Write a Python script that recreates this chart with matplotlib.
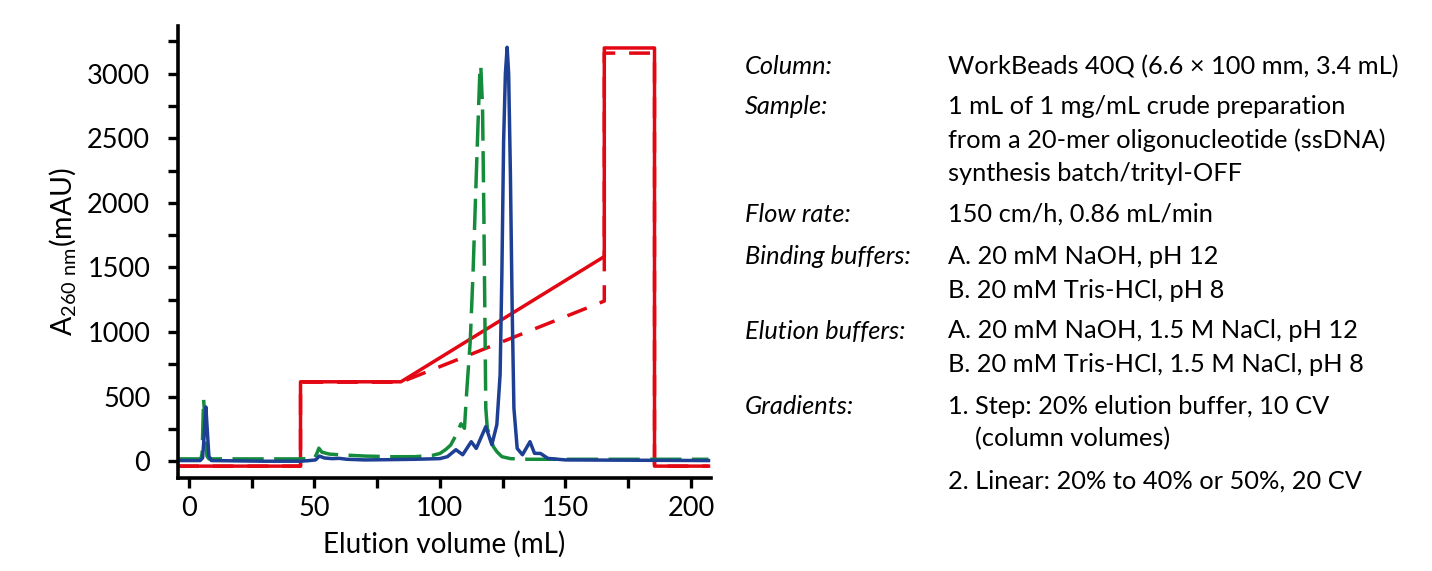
import matplotlib
matplotlib.use('Agg')
import matplotlib.pyplot as plt

plt.rcParams['font.family'] = ['Lato', 'DejaVu Sans']
plt.rcParams['mathtext.fontset'] = 'custom'
plt.rcParams['mathtext.rm'] = 'Lato'

# chromatogram traces (elution volume mL, A260 mAU)
blue_x = [-4.3, 4.5, 5.5, 6.2, 6.8, 7.4, 8.0, 9.0, 30, 44.5, 48, 50.5, 52, 54, 57, 60, 63, 70, 80, 90,
          100, 103, 106.4, 109.1, 112.5, 114.5, 118.3, 120.7, 122.7, 124.0, 124.7, 125.4, 126.1, 126.8,
          127.4, 128.1, 128.8, 129.5, 130.8, 132.9, 135.9, 137.7, 140.1, 143, 150, 207]
blue_y = [5, 5, 25, 220, 420, 230, 40, 5, 0, 0, 5, 10, 40, 25, 20, 22, 15, 10, 12, 15,
          20, 35, 89, 50, 151, 99, 268, 128, 283, 671, 1448, 2481, 3000, 3205,
          3000, 2224, 1186, 410, 99, 50, 151, 61, 60, 22, 10, 5]

green_x = [-4.3, 4.8, 5.3, 5.9, 6.5, 7.2, 8.0, 20, 44, 50, 51.0, 51.8, 53, 56, 60, 70, 80, 90, 97,
           100, 102.3, 104.3, 106.4, 108.4, 109.8, 110.7, 112.1, 113.2, 114.3, 115.2, 115.9, 116.3,
           117.0, 117.5, 117.9, 118.3, 118.9, 121.3, 122.7, 124.7, 128.1, 135, 207]
green_y = [18, 18, 60, 480, 300, 40, 18, 18, 18, 22, 60, 101, 70, 55, 50, 40, 35, 35, 45,
           60, 90, 125, 200, 290, 255, 540, 928, 1448, 2092, 2612, 3000, 3063,
           2739, 1963, 1186, 410, 255, 113, 74, 35, 20, 15, 15]

# gradient traces (red)
grad_x = [-4.3, 44.5, 44.5, 84.5, 165.5, 165.5, 185.5, 185.5, 207]
grad_solid = [-38, -38, 615, 615, 1585, 3200, 3200, -38, -38]
grad_dashed = [-38, -38, 612, 612, 1240, 3160, 3160, -38, -38]

# method text on the right
info_labels = ['Column:', 'Sample:', 'Flow rate:', 'Binding buffers:', 'Elution buffers:', 'Gradients:']
info_lines = ['WorkBeads 40Q (6.6 × 100 mm, 3.4 mL)',
              '1 mL of 1 mg/mL crude preparation',
              'from a 20-mer oligonucleotide (ssDNA)',
              'synthesis batch/trityl-OFF',
              '150 cm/h, 0.86 mL/min',
              'A. 20 mM NaOH, pH 12',
              'B. 20 mM Tris-HCl, pH 8',
              'A. 20 mM NaOH, 1.5 M NaCl, pH 12',
              'B. 20 mM Tris-HCl, 1.5 M NaCl, pH 8',
              '1. Step: 20% elution buffer, 10 CV',
              '(column volumes)',
              '2. Linear: 20% to 40% or 50%, 20 CV']

RED = '#e30613'
BLUE = '#1d3f94'
GREEN = '#148c3c'

W, H = 1432, 571
fig = plt.figure(figsize=(W / 100, H / 100), dpi=100)
ax = fig.add_axes([178 / W, 93 / H, 533 / W, 452 / H])

ax.plot(grad_x, grad_dashed, color=RED, lw=2.5, dashes=(6, 4))
ax.plot(grad_x, grad_solid, color=RED, lw=2.5)
ax.plot(green_x, green_y, color=GREEN, lw=2.5, dashes=(9, 3))
ax.plot(blue_x, blue_y, color=BLUE, lw=2.5)

ax.set_xlim(-4.3, 208)
ax.set_ylim(-130, 3370)
ax.set_xticks([0, 50, 100, 150, 200])
ax.set_xticks([25, 75, 125, 175], minor=True)
ax.set_yticks([0, 500, 1000, 1500, 2000, 2500, 3000])
ax.set_yticks([250, 750, 1250, 1750, 2250, 2750, 3250], minor=True)
ax.tick_params(which='both', direction='out', length=7, width=2.4, labelsize=19.5)
ax.tick_params(axis='y', pad=13)
ax.tick_params(axis='x', pad=6)
for s in ['top', 'right']:
    ax.spines[s].set_visible(False)
for s in ['left', 'bottom']:
    ax.spines[s].set_linewidth(2.6)

ax.set_xlabel('Elution volume (mL)', fontsize=20, labelpad=7)
ax.set_ylabel(r'A$_{\mathrm{260\ nm}}$(mAU)', fontsize=20.5, labelpad=6)

# text block
label_rows = [67, 106, 214, 256, 331, 406]
line_rows = [67, 106, 140, 174, 214, 256, 290, 331, 365, 406, 439, 481]
line_x = [948] * 10 + [975, 948]
for lab, yy in zip(info_labels, label_rows):
    fig.text(745 / W, 1 - yy / H, lab, fontsize=18.3, style='italic', va='center', ha='left')
for txt, yy, xx in zip(info_lines, line_rows, line_x):
    fig.text(xx / W, 1 - yy / H, txt, fontsize=18.3, va='center', ha='left')

fig.savefig('out.png', dpi=100)
